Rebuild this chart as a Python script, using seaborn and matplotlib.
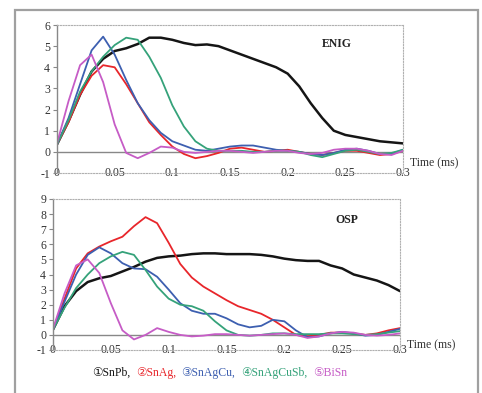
import matplotlib
matplotlib.use("Agg")
import matplotlib.pyplot as plt
import pandas as pd
import seaborn as sns
from matplotlib.offsetbox import AnchoredOffsetbox, HPacker, TextArea
from matplotlib.patches import Rectangle

# time axis (ms), common to all curves
time_ms = [round(0.01 * i, 2) for i in range(31)]

alloys = ["SnPb", "SnAg", "SnAgCu", "SnAgCuSb", "BiSn"]
legend_marks = ["\u2460", "\u2461", "\u2462", "\u2463", "\u2464"]

# ENIG finish
enig_snpb = [0.35, 1.45, 2.7, 3.8, 4.4, 4.77, 4.9, 5.1, 5.4, 5.4, 5.3, 5.15, 5.05, 5.08, 5.0, 4.8,
             4.6, 4.4, 4.2, 4.0, 3.7, 3.1, 2.3, 1.6, 1.0, 0.8, 0.7, 0.6, 0.5, 0.45, 0.4]
enig_snag = [0.35, 1.4, 2.7, 3.6, 4.1, 4.0, 3.2, 2.3, 1.4, 0.8, 0.25, -0.1, -0.3, -0.2, -0.05, 0.15,
             0.2, 0.1, 0.0, 0.05, 0.1, 0.0, -0.1, -0.15, -0.05, 0.05, 0.05, -0.05, -0.15, -0.1, 0.05]
enig_snagcu = [0.35, 1.6, 3.2, 4.8, 5.45, 4.6, 3.4, 2.3, 1.5, 0.9, 0.5, 0.3, 0.1, 0.05, 0.15, 0.25,
               0.3, 0.3, 0.2, 0.1, 0.05, 0.0, -0.1, -0.15, -0.05, 0.1, 0.15, 0.05, -0.1, -0.1, 0.1]
enig_snagcusb = [0.35, 1.5, 2.85, 3.8, 4.5, 5.05, 5.4, 5.3, 4.5, 3.5, 2.2, 1.2, 0.5, 0.15, 0.05, 0.05,
                 0.05, 0.0, 0.0, 0.05, 0.05, 0.0, -0.15, -0.25, -0.1, 0.05, 0.1, 0.0, -0.1, -0.05, 0.1]
enig_bisn = [0.4, 2.4, 4.1, 4.6, 3.3, 1.3, -0.05, -0.3, -0.05, 0.25, 0.2, 0.0, -0.05, 0.0, 0.05, 0.05,
             0.0, -0.05, 0.0, 0.05, 0.05, -0.05, -0.1, -0.05, 0.1, 0.15, 0.15, 0.05, -0.1, -0.15, 0.05]

# OSP finish
osp_snpb = [0.35, 1.9, 2.9, 3.5, 3.75, 3.9, 4.2, 4.5, 4.85, 5.1, 5.2, 5.25, 5.35, 5.4, 5.4, 5.35,
            5.35, 5.35, 5.3, 5.2, 5.05, 4.95, 4.9, 4.9, 4.6, 4.4, 4.0, 3.8, 3.6, 3.3, 2.9]
osp_snag = [0.35, 2.4, 4.4, 5.4, 5.85, 6.2, 6.5, 7.2, 7.8, 7.4, 6.1, 4.7, 3.8, 3.2, 2.75, 2.3,
            1.9, 1.65, 1.4, 1.0, 0.5, 0.0, -0.1, 0.0, 0.15, 0.15, 0.1, 0.0, 0.1, 0.3, 0.45]
osp_snagcu = [0.35, 2.2, 4.0, 5.3, 5.8, 5.4, 4.75, 4.4, 4.35, 3.85, 3.0, 2.1, 1.6, 1.4, 1.4, 1.1,
              0.7, 0.5, 0.6, 1.0, 0.9, 0.3, -0.15, -0.1, 0.1, 0.2, 0.1, -0.05, 0.0, 0.2, 0.4]
osp_snagcusb = [0.35, 1.8, 3.1, 4.0, 4.75, 5.2, 5.5, 5.3, 4.3, 3.2, 2.4, 2.0, 1.9, 1.6, 0.9, 0.3,
                0.0, -0.05, 0.0, 0.1, 0.1, 0.05, 0.05, 0.05, 0.1, 0.1, 0.05, 0.0, 0.05, 0.15, 0.25]
osp_bisn = [0.4, 2.75, 4.6, 5.0, 4.1, 2.1, 0.3, -0.3, 0.0, 0.45, 0.2, 0.0, -0.1, -0.05, 0.05, 0.05,
            0.0, -0.05, 0.0, 0.05, 0.1, 0.0, -0.2, -0.1, 0.1, 0.2, 0.15, 0.0, -0.05, 0.0, 0.1]

colors = {"SnPb": "#151515", "SnAg": "#e8262b", "SnAgCu": "#3d5fb0",
          "SnAgCuSb": "#35a27a", "BiSn": "#c65cc6"}
widths = {"SnPb": 1.8, "SnAg": 1.3, "SnAgCu": 1.3, "SnAgCuSb": 1.3, "BiSn": 1.3}


def to_frame(series):
    df = pd.DataFrame()
    for name, vals in zip(alloys, series):
        new = pd.DataFrame({"t": time_ms, "v": vals})
        new["alloy"] = name
        df = pd.concat((df, new), ignore_index=True)
    return df


df_enig = to_frame([enig_snpb, enig_snag, enig_snagcu, enig_snagcusb, enig_bisn])
df_osp = to_frame([osp_snpb, osp_snag, osp_snagcu, osp_snagcusb, osp_bisn])

sns.set_theme(style="white")
plt.rcParams["font.family"] = ["Liberation Serif", "DejaVu Sans"]
plt.rcParams["axes.unicode_minus"] = False

fig = plt.figure(figsize=(4.82, 3.93), dpi=100)
fig.patches.append(Rectangle((15 / 482, -0.02), 463 / 482, 1 - 10 / 393 + 0.02,
                             transform=fig.transFigure, fill=False,
                             edgecolor="#a0a0a0", linewidth=1.6))

ax_top = fig.add_axes([57 / 482, 1 - 173 / 393, 346 / 482, 148 / 393])
ax_bot = fig.add_axes([53 / 482, 1 - 350 / 393, 347 / 482, 151 / 393])


def style_axes(ax, df, ymax, label, label_xy, time_y):
    for name in alloys:
        sns.lineplot(ax=ax, data=df[df.alloy == name], x="t", y="v",
                     color=colors[name], linewidth=widths[name], legend=False)
    for ln in ax.lines:
        ln.set_solid_joinstyle("round")
    ax.set_xlim(0, 0.3)
    ax.set_ylim(-1, ymax)
    ax.set_xticks([0, 0.05, 0.1, 0.15, 0.2, 0.25, 0.3])
    ax.set_xticklabels(["0", "0.05", "0.1", "0.15", "0.2", "0.25", "0.3"])
    ax.set_yticks(range(-1, ymax + 1))
    ax.set_xlabel("")
    ax.set_ylabel("")
    ax.tick_params(axis="x", length=0, pad=-4, labelsize=8.5, colors="#333333")
    ax.tick_params(axis="y", length=3, width=0.8, pad=2, labelsize=8.5,
                   colors="#888888", labelcolor="#333333", left=True)
    ax.spines["left"].set_color("#888888")
    ax.spines["left"].set_linewidth(1.0)
    for side in ("top", "right", "bottom"):
        ax.spines[side].set_color("#b0b0b0")
        ax.spines[side].set_linestyle((0, (1, 1.5)))
        ax.spines[side].set_linewidth(0.8)
    ax.axhline(0, color="#888888", linewidth=1.0, zorder=1)
    ax.text(label_xy[0], label_xy[1], label, ha="center", va="center",
            fontsize=8.5, fontweight="bold", color="#222222")
    ax.annotate("Time (ms)", xy=(1.02, time_y), xycoords=("axes fraction", "data"),
                ha="left", va="center", fontsize=8.5, color="#333333",
                annotation_clip=False)


style_axes(ax_top, df_enig, 6, "ENIG", (0.243, 5.1), -0.52)
style_axes(ax_bot, df_osp, 9, "OSP", (0.254, 7.6), -0.66)

pieces = []
for i, name in enumerate(alloys):
    txt = legend_marks[i] + name + ("," if i < len(alloys) - 1 else "")
    pieces.append(TextArea(txt, textprops=dict(color=colors[name], fontsize=8.5,
                                               family=["Liberation Serif", "DejaVu Sans"])))
box = HPacker(children=pieces, align="baseline", pad=0, sep=4)
anchored = AnchoredOffsetbox(loc="center left", child=box, frameon=False,
                             bbox_to_anchor=(92 / 482, 1 - 373 / 393),
                             bbox_transform=fig.transFigure, borderpad=0, pad=0)
fig.add_artist(anchored)

fig.savefig("out.png", dpi=100)
